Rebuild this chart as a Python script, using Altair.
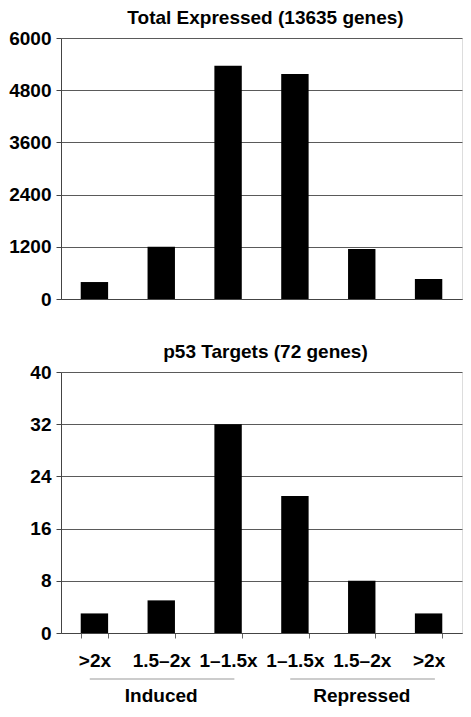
import altair as alt
import pandas as pd
import json

# ---- data ----
bin_index = [0, 1, 2, 3, 4, 5]
bin_labels = [">2x", "1.5–2x", "1–1.5x", "1–1.5x", "1.5–2x", ">2x"]
total_expressed = [390, 1200, 5360, 5170, 1150, 460]
p53_targets = [3, 5, 32, 21, 8, 3]

group_names = ["Induced", "Repressed"]
group_start = [0, 3]
group_mid = [1, 4]
group_end = [2, 5]

total_ticks = [0, 1200, 2400, 3600, 4800, 6000]
p53_ticks = [0, 8, 16, 24, 32, 40]

FONT = "Liberation Sans"
W, H = 401, 261
label_expr = json.dumps(bin_labels, ensure_ascii=False) + "[datum.value]"

df_total = pd.DataFrame({"idx": bin_index, "count": total_expressed})
df_p53 = pd.DataFrame({"idx": bin_index, "count": p53_targets})
df_groups = pd.DataFrame({"group": group_names, "start": group_start,
                          "mid": group_mid, "end": group_end})

xscale = alt.Scale(domain=bin_index, paddingInner=0.59, paddingOuter=0.295)

yaxis_common = dict(
    labelFont=FONT, labelFontSize=19, labelFontWeight="bold", labelColor="black",
    grid=True, gridColor="#5a5a5a", gridWidth=1, format="d",
    domainColor="#444444", tickColor="#444444", tickSize=5, labelPadding=5,
    title=None,
)


def title(text):
    return alt.TitleParams(text, font=FONT, fontSize=19, fontWeight="bold",
                           color="black", offset=1, anchor="middle", dx=4)


top = alt.Chart(df_total).mark_bar(color="black").encode(
    x=alt.X("idx:O", scale=xscale,
            axis=alt.Axis(labels=False, ticks=False, title=None,
                          domainColor="#444444")),
    y=alt.Y("count:Q", scale=alt.Scale(domain=[0, 6000], nice=False),
            axis=alt.Axis(values=total_ticks, **yaxis_common)),
).properties(width=W, height=H, title=title("Total Expressed (13635 genes)"))

bars = alt.Chart(df_p53).mark_bar(color="black").encode(
    x=alt.X("idx:O", scale=xscale,
            axis=alt.Axis(labelExpr=label_expr, labelAngle=0, labelFont=FONT,
                          labelFontSize=19, labelFontWeight="bold",
                          labelColor="black", labelPadding=13,
                          tickBand="extent", tickSize=5, tickColor="#666666",
                          domainColor="#444444", title=None)),
    y=alt.Y("count:Q", scale=alt.Scale(domain=[0, 40], nice=False),
            axis=alt.Axis(values=p53_ticks, **yaxis_common)),
)

grp_rules = alt.Chart(df_groups).mark_rule(color="#999999", strokeWidth=1).encode(
    x=alt.X("start:O", scale=xscale, bandPosition=0.33),
    x2=alt.X2("end:O", bandPosition=0.73),
    y=alt.value(H + 46),
)

grp_text = alt.Chart(df_groups).mark_text(
    font=FONT, fontSize=19, fontWeight="bold", color="black",
    baseline="alphabetic", align="center",
).encode(
    x=alt.X("mid:O", scale=xscale, bandPosition=0.5),
    y=alt.value(H + 69),
    text="group:N",
)

bottom = alt.layer(bars, grp_rules, grp_text).properties(
    width=W, height=H, title=title("p53 Targets (72 genes)"))

chart = alt.vconcat(top, bottom, spacing=32).configure_view(
    stroke=None
).configure(background="white").properties(padding=0)

chart.save("out.html", embed_options={"renderer": "svg", "actions": False})
